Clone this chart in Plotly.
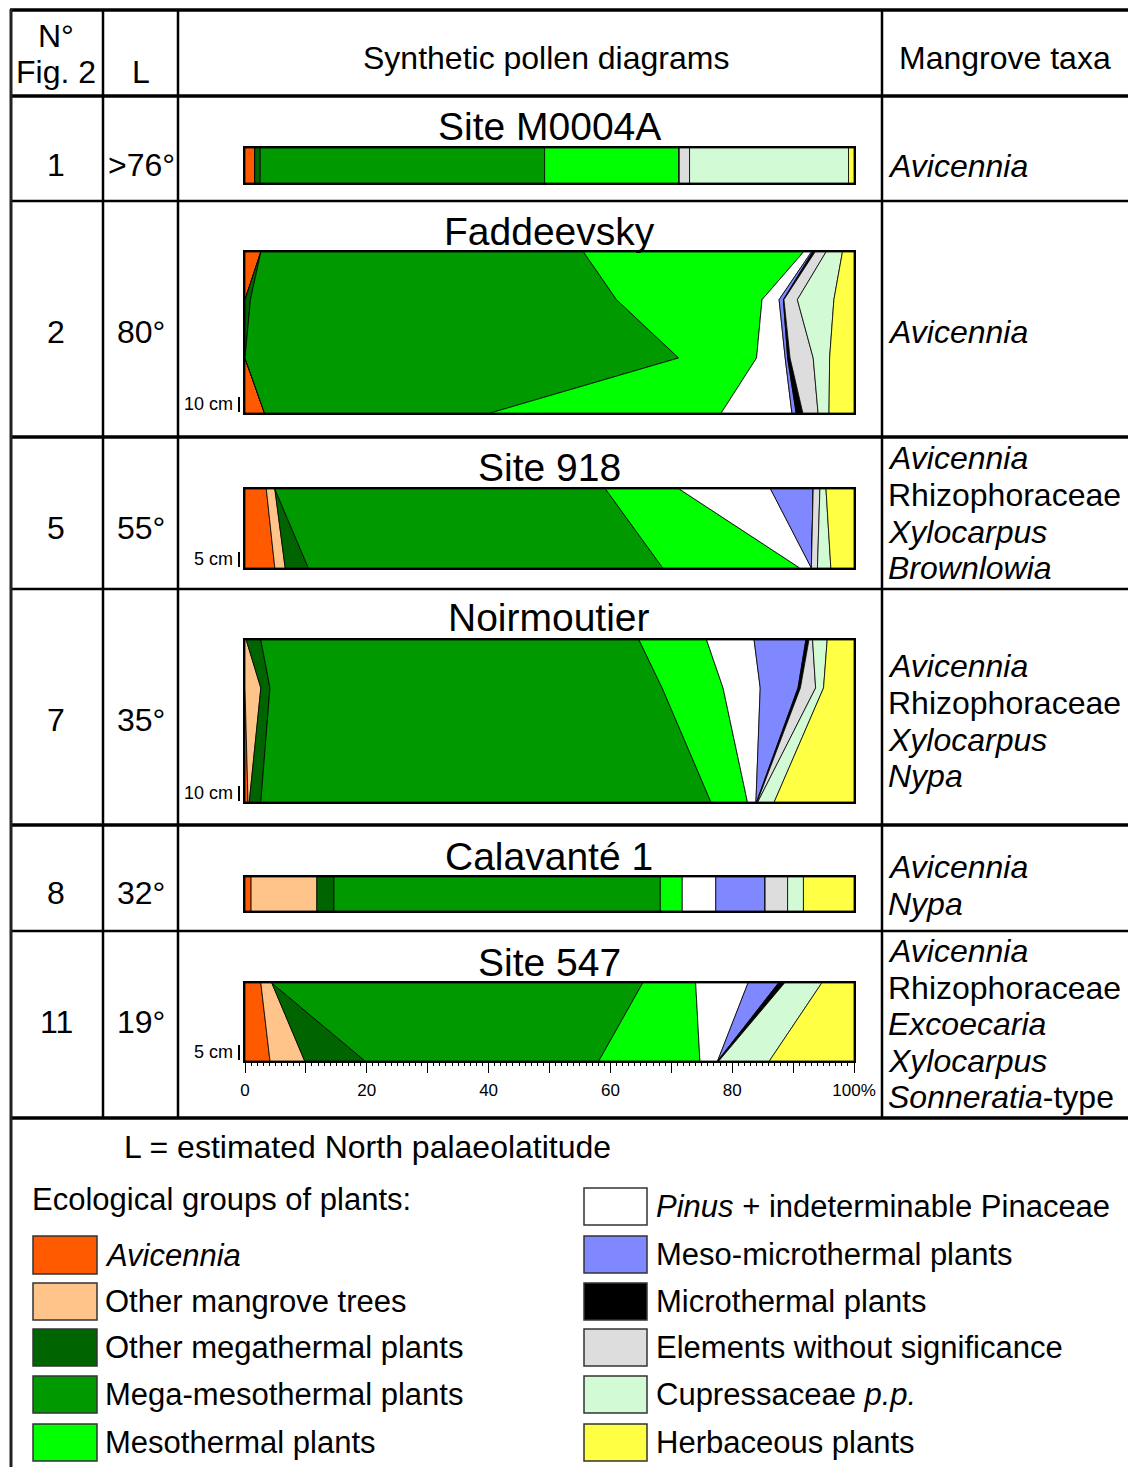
import numpy as np
import plotly.graph_objects as go

W, H = 1128, 1467
FONT = "Liberation Sans, Arial, sans-serif"

# ---------------- data ----------------
groups = ["Avicennia", "Other mangrove trees", "Other megathermal plants",
          "Mega-mesothermal plants", "Mesothermal plants",
          "Pinus + indeterminable Pinaceae", "Meso-microthermal plants",
          "Microthermal plants", "Elements without significance",
          "Cupressaceae p.p.", "Herbaceous plants"]
group_labels = ["<i>Avicennia</i>", "Other mangrove trees", "Other megathermal plants",
                "Mega-mesothermal plants", "Mesothermal plants",
                "<i>Pinus</i> + indeterminable Pinaceae", "Meso-microthermal plants",
                "Microthermal plants", "Elements without significance",
                "Cupressaceae <i>p.p.</i>", "Herbaceous plants"]
colors = ["#FF5A00", "#FFC489", "#006400", "#009900", "#00FF00", "#FFFFFF",
          "#8088FF", "#000000", "#DDDDDD", "#D2FBD5", "#FFFF44"]

site_names = ["Site M0004A", "Faddeevsky", "Site 918", "Noirmoutier", "Calavanté 1", "Site 547"]
fig2_numbers = ["1", "2", "5", "7", "8", "11"]
palaeolatitudes = [">76°", "80°", "55°", "35°", "32°", "19°"]
mangrove_taxa = [
    ["<i>Avicennia</i>"],
    ["<i>Avicennia</i>"],
    ["<i>Avicennia</i>", "Rhizophoraceae", "<i>Xylocarpus</i>", "<i>Brownlowia</i>"],
    ["<i>Avicennia</i>", "Rhizophoraceae", "<i>Xylocarpus</i>", "<i>Nypa</i>"],
    ["<i>Avicennia</i>", "<i>Nypa</i>"],
    ["<i>Avicennia</i>", "Rhizophoraceae", "<i>Excoecaria</i>", "<i>Xylocarpus</i>",
     "<i>Sonneratia</i>-type"],
]
scale_bars = ["", "10 cm", "5 cm", "10 cm", "", "5 cm"]

# relative depth (0 = top of diagram) and percentages of each group (same order as groups)
m0004a_depth = [0, 1]
m0004a_pct = [[1.6, 0, 0.9, 46.7, 22.1, 0, 0, 0, 1.7, 26.1, 0.9],
              [1.6, 0, 0.9, 46.7, 22.1, 0, 0, 0, 1.7, 26.1, 0.9]]

faddeevsky_depth = [0, 0.296, 0.658, 1]
faddeevsky_pct = [[2.6, 0, 0, 53.0, 36.1, 1.3, 0.2, 0.4, 1.8, 2.7, 1.9],
                  [0, 0, 0.9, 60.1, 23.9, 2.8, 0.7, 0.1, 2.2, 6.0, 3.3],
                  [0, 0, 0, 71.2, 12.8, 4.7, 0.4, 0.4, 3.8, 2.7, 4.0],
                  [3.2, 0, 0, 37.1, 37.9, 11.6, 0.7, 1.1, 2.5, 1.8, 4.1]]

site918_depth = [0, 1]
site918_pct = [[3.5, 1.4, 0, 54.3, 12.1, 15.0, 7.0, 0, 1.1, 1.0, 4.6],
               [4.9, 1.7, 3.8, 58.2, 22.5, 1.9, 0, 0, 1.0, 2.2, 3.8]]

noirmoutier_depth = [0, 0.296, 1]
noirmoutier_pct = [[0, 0.2, 2.4, 62.1, 11.1, 7.8, 8.5, 0.5, 0.6, 2.4, 4.4],
                   [0, 2.6, 1.5, 64.4, 10.0, 6.1, 6.2, 0.4, 2.5, 1.3, 5.0],
                   [0.5, 0.2, 1.9, 73.9, 6.0, 1.4, 0.1, 0.1, 0.1, 2.7, 13.1]]

calavante_depth = [0, 1]
calavante_pct = [[1.0, 10.8, 2.8, 53.6, 3.6, 5.5, 8.1, 0, 3.7, 2.6, 8.3],
                 [1.0, 10.8, 2.8, 53.6, 3.6, 5.5, 8.1, 0, 3.7, 2.6, 8.3]]

site547_depth = [0, 1]
site547_pct = [[2.6, 1.8, 0, 60.9, 8.7, 8.6, 5.0, 1.0, 0, 6.1, 5.3],
               [4.1, 5.7, 9.9, 38.4, 16.6, 2.9, 0, 0.2, 0, 8.3, 13.9]]

x_tick_values = [0, 10, 20, 30, 40, 50, 60, 70, 80, 90, 100]
x_tick_labels = ["0", "", "20", "", "40", "", "60", "", "80", "", "100%"]

site_depths = [m0004a_depth, faddeevsky_depth, site918_depth, noirmoutier_depth,
               calavante_depth, site547_depth]
site_pcts = [m0004a_pct, faddeevsky_pct, site918_pct, noirmoutier_pct,
             calavante_pct, site547_pct]

# ---------------- layout geometry (pixels) ----------------
DX0, DX1 = 245, 854
diag_box = [(148, 183), (252, 413), (489, 568), (640, 802), (877, 911), (983, 1061)]
title_y = [127, 231, 467, 618, 856, 962]
row_center = [165, 332, 528, 720, 893, 1022]
taxa_y = [[166], [332], [458, 495, 532, 568], [666, 703, 740, 776], [867, 904],
          [951, 988, 1024, 1061, 1097]]


def px(x):
    return x / W


def py(y):
    return 1 - y / H


fig = go.Figure()
layout_axes = {}

for i in range(6):
    k = i + 1
    sfx = "" if k == 1 else str(k)
    depth = np.array(site_depths[i], dtype=float)
    pct = np.array(site_pcts[i], dtype=float)
    cum = np.cumsum(pct, axis=1)
    left = cum - pct
    for g in range(len(groups)):
        xs = list(cum[:, g]) + list(left[::-1, g])
        ys = list(depth) + list(depth[::-1])
        xs.append(xs[0])
        ys.append(ys[0])
        fig.add_trace(go.Scatter(
            x=xs, y=ys, mode="lines", fill="toself", fillcolor=colors[g],
            line=dict(color="black", width=0.8), name=groups[g],
            xaxis="x" + sfx, yaxis="y" + sfx, showlegend=False, hoverinfo="skip"))
    top, bot = diag_box[i]
    xa = dict(domain=[px(DX0), px(DX1)], range=[0, 100], anchor="y" + sfx,
              showgrid=False, zeroline=False, showline=True, mirror=True,
              linecolor="black", linewidth=1.5, showticklabels=False, ticks="",
              fixedrange=True, automargin=False)
    if k == 6:
        xa.update(tickmode="array", tickvals=x_tick_values, ticktext=x_tick_labels,
                  showticklabels=True, ticks="outside", ticklen=10, tickwidth=1,
                  tickcolor="black", ticklabelstandoff=3,
                  tickfont=dict(family=FONT, size=17, color="black"),
                  minor=dict(tickmode="linear", tick0=0, dtick=1, ticks="outside",
                             ticklen=3, tickwidth=1, tickcolor="black"))
    ya = dict(domain=[py(bot), py(top)], range=[1, 0], anchor="x" + sfx,
              showgrid=False, zeroline=False, showline=True, mirror=True,
              linecolor="black", linewidth=1.5, showticklabels=False, ticks="",
              fixedrange=True, automargin=False)
    layout_axes["xaxis" + sfx] = xa
    layout_axes["yaxis" + sfx] = ya

# medium ticks (every 5 %) on the Site 547 axis
layout_axes["xaxis7"] = dict(overlaying="x6", anchor="y6", range=[0, 100],
                             tickmode="array", tickvals=list(range(5, 100, 10)),
                             ticks="outside", ticklen=6, tickwidth=1, tickcolor="black",
                             showticklabels=False, showgrid=False, zeroline=False,
                             showline=False, side="bottom", fixedrange=True,
                             automargin=False)

fig.update_layout(**layout_axes)

shapes = []
annotations = []


def hline(y, x0, x1, w):
    shapes.append(dict(type="line", xref="paper", yref="paper", x0=px(x0), x1=px(x1),
                       y0=py(y), y1=py(y), line=dict(color="black", width=w)))


def vline(x, y0, y1, w, color="black"):
    shapes.append(dict(type="line", xref="paper", yref="paper", x0=px(x), x1=px(x),
                       y0=py(y0), y1=py(y1), line=dict(color=color, width=w)))


def text(x, y, s, size, anchor="center", color="black"):
    annotations.append(dict(xref="paper", yref="paper", x=px(x), y=py(y), text=s,
                            showarrow=False, xanchor=anchor, yanchor="middle",
                            font=dict(family=FONT, size=size, color=color)))


# table frame
hline(10, 10, 1128, 3.5)
hline(96, 10, 1128, 3.5)
for y, w in [(201, 2.5), (437, 3.5), (589, 2.5), (825, 3.5), (931, 2.5), (1118, 3.5)]:
    hline(y, 10, 1128, w)
vline(11, 9, 1467, 3, color="#222222")
for x in [103, 178, 882]:
    vline(x, 10, 1118, 2.5)

# header
text(56, 36, "N°", 32)
text(56, 72, "Fig. 2", 32)
text(141, 72, "L", 32)
text(546, 58, "Synthetic pollen diagrams", 32)
text(1005, 58, "Mangrove taxa", 32)

for i in range(6):
    text(56, row_center[i], fig2_numbers[i], 32)
    text(141, row_center[i], palaeolatitudes[i], 32)
    text(549, title_y[i], site_names[i], 39)
    for t, ty in zip(mangrove_taxa[i], taxa_y[i]):
        text(886, ty, t, 32, anchor="left")
    if scale_bars[i]:
        bot = diag_box[i][1]
        vline(239, bot - 1, bot - 16, 2)
        text(235, bot - 9, scale_bars[i], 18, anchor="right")

# legend
text(122, 1147, "L = estimated North palaeolatitude", 32, anchor="left")
text(30, 1199, "Ecological groups of plants:", 31, anchor="left")
left_rows = [(1236, 1274), (1283, 1320), (1329, 1366), (1376, 1413), (1424, 1461)]
right_rows = [(1188, 1225), (1236, 1273), (1283, 1320), (1329, 1366), (1376, 1413),
              (1424, 1461)]
for g in range(len(groups)):
    if g < 5:
        (y0, y1), x0, x1, tx = left_rows[g], 33, 97, 103
    else:
        (y0, y1), x0, x1, tx = right_rows[g - 5], 584, 647, 654
    shapes.append(dict(type="rect", xref="paper", yref="paper", x0=px(x0), x1=px(x1),
                       y0=py(y1), y1=py(y0), fillcolor=colors[g],
                       line=dict(color="#333333", width=1.5)))
    text(tx, (y0 + y1) / 2, group_labels[g], 31, anchor="left")

fig.update_layout(width=W, height=H, autosize=False,
                  margin=dict(l=0, r=0, t=0, b=0, pad=0, autoexpand=False),
                  paper_bgcolor="white", plot_bgcolor="white",
                  shapes=shapes, annotations=annotations, showlegend=False,
                  font=dict(family=FONT, color="black"))

fig.write_html("out.html",
               config={"responsive": False, "displayModeBar": False},
               post_script="document.documentElement.style.margin='0';"
                           "document.documentElement.style.overflow='hidden';"
                           "document.body.style.margin='0';"
                           "document.body.style.overflow='hidden';")
